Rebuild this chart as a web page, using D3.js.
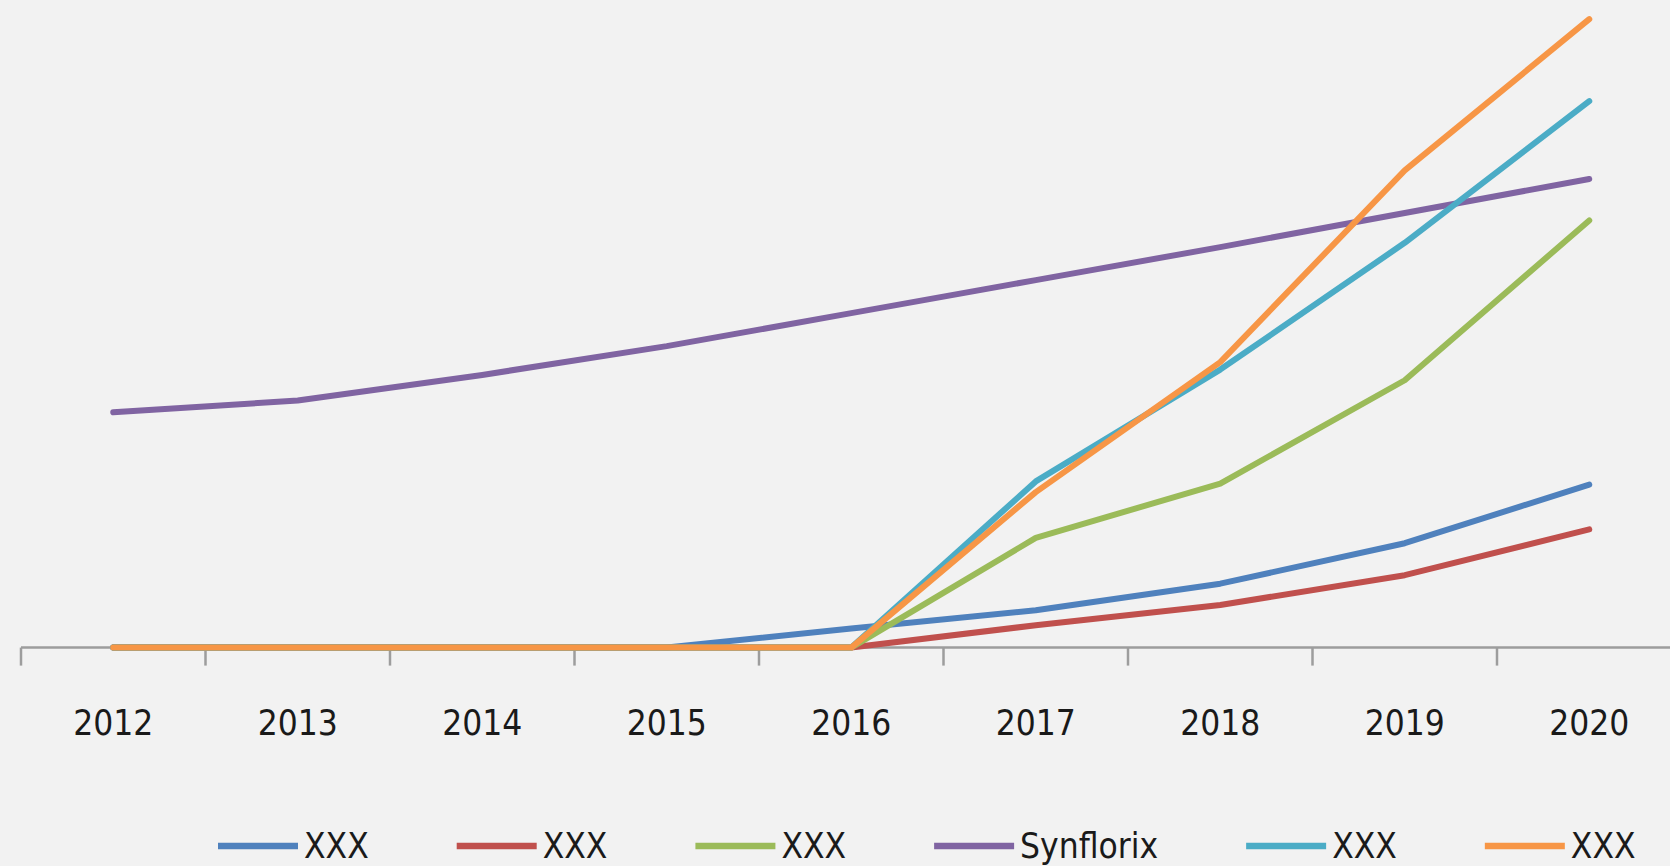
<!DOCTYPE html>
<html>
<head>
<meta charset="utf-8">
<script src="https://cdn.jsdelivr.net/npm/d3@7/dist/d3.min.js"></script>
<style>
  html, body { margin: 0; padding: 0; background: #f2f2f2; overflow: hidden; }
  svg { display: block; }
  text { font-family: "DejaVu Sans Condensed", "DejaVu Sans", sans-serif; font-stretch: condensed; fill: #1a1a1a; }
</style>
</head>
<body>
<svg id="chart" width="1670" height="866"></svg>
<script>
// Years on the category axis
const years = ["2012", "2013", "2014", "2015", "2016", "2017", "2018", "2019", "2020"];

// Series values per year
const seriesNames = ["XXX", "XXX", "XXX", "Synflorix", "XXX", "XXX"];
const seriesColors = ["#4f81bd", "#c0504d", "#9bbb59", "#8064a2", "#4bacc6", "#f79646"];
const valuesBlue   = [0, 0, 0, 0, 18, 35, 60, 98, 153];
const valuesRed    = [0, 0, 0, 0, 0, 21, 40, 68, 111];
const valuesGreen  = [0, 0, 0, 0, 0, 103, 154, 251, 401];
const valuesPurple = [221, 232, 256, 283, 314, 345, 376, 408, 440];
const valuesTeal   = [0, 0, 0, 0, 0, 156, 261, 380, 513];
const valuesOrange = [0, 0, 0, 0, 0, 146, 268, 448, 590];
const seriesValues = [valuesBlue, valuesRed, valuesGreen, valuesPurple, valuesTeal, valuesOrange];

const svg = d3.select("#chart");

const plotLeft = 21, bandW = 184.5;
const x = d3.scaleBand().domain(years).range([plotLeft, plotLeft + bandW * years.length]).padding(0);
const y = d3.scaleLinear().domain([0, 600]).range([647.6, 8.5]);
const cx = d => x(d) + x.bandwidth() / 2;

// Category axis: line, boundary ticks and year labels
const axisY = y(0);
const axisG = svg.append("g");
axisG.append("line")
  .attr("x1", x.range()[0]).attr("x2", x.range()[1])
  .attr("y1", axisY).attr("y2", axisY)
  .attr("stroke", "#9d9d9d").attr("stroke-width", 2.5);
const boundaries = years.map(d => x(d)).concat([x.range()[1]]);
axisG.selectAll("line.tick").data(boundaries).enter().append("line")
  .attr("class", "tick")
  .attr("x1", d => d).attr("x2", d => d)
  .attr("y1", axisY).attr("y2", axisY + 18)
  .attr("stroke", "#9d9d9d").attr("stroke-width", 2.5);
axisG.selectAll("text").data(years).enter().append("text")
  .attr("x", d => cx(d)).attr("y", 735)
  .attr("text-anchor", "middle")
  .style("font-size", "35px")
  .text(d => d);

// Series lines
const line = d3.line()
  .x((v, i) => cx(years[i]))
  .y(v => y(v))
  .curve(d3.curveLinear);

svg.append("g").selectAll("path").data(seriesValues).enter().append("path")
  .attr("d", d => line(d))
  .attr("fill", "none")
  .attr("stroke", (d, i) => seriesColors[i])
  .attr("stroke-width", 6)
  .attr("stroke-linejoin", "round")
  .attr("stroke-linecap", "round");

// Legend along the bottom
const legend = svg.append("g");
let lx = 218;
const ly = 846;
seriesNames.forEach((name, i) => {
  legend.append("line")
    .attr("x1", lx).attr("x2", lx + 80)
    .attr("y1", ly).attr("y2", ly)
    .attr("stroke", seriesColors[i]).attr("stroke-width", 6.5);
  const t = legend.append("text")
    .attr("x", lx + 86).attr("y", ly + 12)
    .style("font-size", "35px")
    .text(name);
  const w = t.node().getComputedTextLength();
  lx += 86 + w + 88;
});
</script>
</body>
</html>
